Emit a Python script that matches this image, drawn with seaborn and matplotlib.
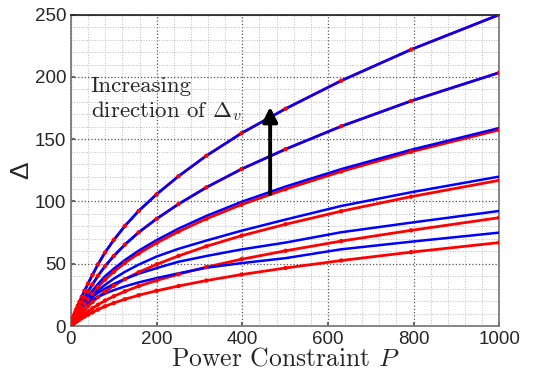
import matplotlib
matplotlib.use("Agg")
import matplotlib.pyplot as plt
from matplotlib.ticker import MultipleLocator
import pandas as pd
import seaborn as sns

# power grid (log spaced points)
power = [1, 1.26, 1.58, 2, 2.51, 3.16, 3.98, 5.01, 6.31, 7.94, 10, 12.6, 15.8, 20,
         25.1, 31.6, 39.8, 50.1, 63.1, 79.4, 100, 126, 158, 200, 251, 316, 398,
         501, 631, 794, 1000]

# red curves (with dots)
red_1 = [1.8, 2.1, 2.6, 3.1, 3.7, 4.4, 5.3, 6.4, 7.7, 9.3, 11.2, 13.5, 16.2, 19.5,
         23.5, 28.3, 34.0, 41.0, 49.5, 59.0, 69.1, 80.4, 92.4, 105.8, 120.3, 136.7,
         154.8, 174.5, 197.0, 222.0, 250.0]
red_2 = [1.5, 1.7, 2.1, 2.5, 3.0, 3.6, 4.3, 5.2, 6.3, 7.6, 9.1, 11.0, 13.2, 15.9,
         19.1, 23.0, 27.7, 33.4, 40.3, 48.0, 56.2, 65.4, 75.2, 86.1, 97.9, 111.3,
         126.0, 142.0, 160.4, 180.7, 203.5]
red_3 = [1.1, 1.3, 1.6, 2.0, 2.3, 2.8, 3.3, 4.0, 4.9, 5.9, 7.1, 8.5, 10.2, 12.3,
         14.8, 17.8, 21.4, 25.8, 31.2, 37.2, 43.5, 50.7, 58.2, 66.7, 75.8, 86.1,
         97.5, 109.9, 124.1, 139.9, 157.5]
red_4 = [0.8, 1.0, 1.2, 1.5, 1.7, 2.1, 2.5, 3.0, 3.6, 4.4, 5.2, 6.3, 7.6, 9.1,
         11.0, 13.2, 15.9, 19.2, 23.2, 27.6, 32.3, 37.6, 43.2, 49.5, 56.3, 64.0,
         72.5, 81.7, 92.2, 103.9, 117.0]
red_5 = [0.6, 0.7, 0.9, 1.1, 1.3, 1.5, 1.8, 2.2, 2.7, 3.2, 3.9, 4.7, 5.6, 6.8,
         8.1, 9.8, 11.8, 14.2, 17.1, 20.4, 23.9, 27.8, 32.0, 36.6, 41.6, 47.3,
         53.6, 60.4, 68.2, 76.8, 87.0]
red_6 = [0.5, 0.6, 0.7, 0.8, 1.0, 1.2, 1.4, 1.7, 2.1, 2.5, 3.0, 3.6, 4.3, 5.2,
         6.3, 7.6, 9.1, 11.0, 13.2, 15.8, 18.5, 21.5, 24.7, 28.3, 32.1, 36.5,
         41.3, 46.6, 52.6, 59.3, 67.0]

# blue curves (plain lines); the two top ones lie on the red ones
blue_3 = [1.3, 1.5, 1.9, 2.3, 2.7, 3.3, 3.9, 4.7, 5.7, 6.9, 8.3, 10.0, 12.0, 14.3,
          17.0, 20.2, 24.0, 28.5, 33.8, 40.0, 46.0, 53.0, 60.5, 69.0, 78.2, 88.4,
          99.7, 112.0, 126.0, 141.5, 159.0]
blue_4 = [1.3, 1.5, 1.8, 2.2, 2.6, 3.1, 3.7, 4.4, 5.3, 6.4, 7.7, 9.2, 11.0, 13.0,
          15.3, 18.0, 21.0, 24.5, 28.5, 33.0, 38.0, 43.5, 49.3, 55.8, 62.0, 68.6,
          76.5, 85.5, 96.4, 107.4, 120.0]
blue_5 = [1.3, 1.5, 1.8, 2.1, 2.5, 3.0, 3.6, 4.3, 5.1, 6.2, 7.4, 8.9, 10.6, 12.6,
          14.9, 17.5, 20.3, 23.3, 26.6, 30.0, 33.8, 37.8, 42.0, 46.5, 51.6, 56.2,
          61.5, 67.0, 75.3, 83.0, 92.4]
blue_6 = [1.3, 1.5, 1.8, 2.2, 2.6, 3.1, 3.7, 4.4, 5.3, 6.3, 7.5, 8.9, 10.5, 12.3,
          14.3, 16.5, 18.7, 21.0, 23.4, 26.0, 28.8, 31.8, 35.0, 38.5, 42.3, 46.8,
          50.5, 54.5, 61.6, 67.7, 75.0]

red_curves = [red_1, red_2, red_3, red_4, red_5, red_6]
blue_curves = [red_1, red_2, blue_3, blue_4, blue_5, blue_6]

rows = []
for i, vals in enumerate(red_curves):
    rows += [{"P": p, "Delta": v, "curve": i, "kind": "red"} for p, v in zip(power, vals)]
for i, vals in enumerate(blue_curves):
    rows += [{"P": p, "Delta": v, "curve": i, "kind": "blue"} for p, v in zip(power, vals)]
df = pd.DataFrame(rows)
red_df = df[df["kind"] == "red"]
blue_df = df[df["kind"] == "blue"]

sns.set_theme(style="ticks")
plt.rcParams["font.family"] = ["Liberation Sans", "DejaVu Sans"]
plt.rcParams["mathtext.fontset"] = "cm"

fig = plt.figure(figsize=(5.52, 3.83), dpi=100)
ax = fig.add_axes([0.1286, 0.1488, 0.7759, 0.8128])

sns.lineplot(data=red_df, x="P", y="Delta", units="curve", estimator=None,
             color="#ff0000", lw=2.0, ax=ax, zorder=3)
sns.lineplot(data=blue_df, x="P", y="Delta", units="curve", estimator=None,
             color="#0000ff", lw=1.8, ax=ax, zorder=4)
sns.scatterplot(data=red_df, x="P", y="Delta", color="#ff0000", s=10,
                edgecolor="none", ax=ax, zorder=5)

ax.set_xlim(0, 1000)
ax.set_ylim(0, 250)
ax.xaxis.set_major_locator(MultipleLocator(200))
ax.xaxis.set_minor_locator(MultipleLocator(40))
ax.yaxis.set_major_locator(MultipleLocator(50))
ax.yaxis.set_minor_locator(MultipleLocator(10))
ax.grid(which="major", ls=":", color="#555555", lw=0.9)
ax.grid(which="minor", ls=":", color="#bbbbbb", lw=0.7)
ax.set_axisbelow(True)
ax.tick_params(which="both", direction="in", labelsize=13.5, length=3, color="#555555")
ax.tick_params(which="minor", length=0)
for side in ["left", "bottom", "right"]:
    ax.spines[side].set_color("#777777")
ax.spines["top"].set_color("#222222")

ax.set_xlabel("Power Constraint $P$", family="cmr10", fontsize=18.5, labelpad=-1)
ax.set_ylabel("Δ", fontsize=19, labelpad=1)

ax.text(46, 200, "Increasing\ndirection of $\\Delta_v$", family="cmr10",
        fontsize=16.5, ha="left", va="top", linespacing=1.15, zorder=6)
ax.annotate("", xy=(465, 176), xytext=(465, 106),
            arrowprops=dict(arrowstyle="-|>", lw=2.8, color="black",
                            mutation_scale=22, shrinkA=0, shrinkB=0), zorder=6)

fig.savefig("out.png", dpi=100)
